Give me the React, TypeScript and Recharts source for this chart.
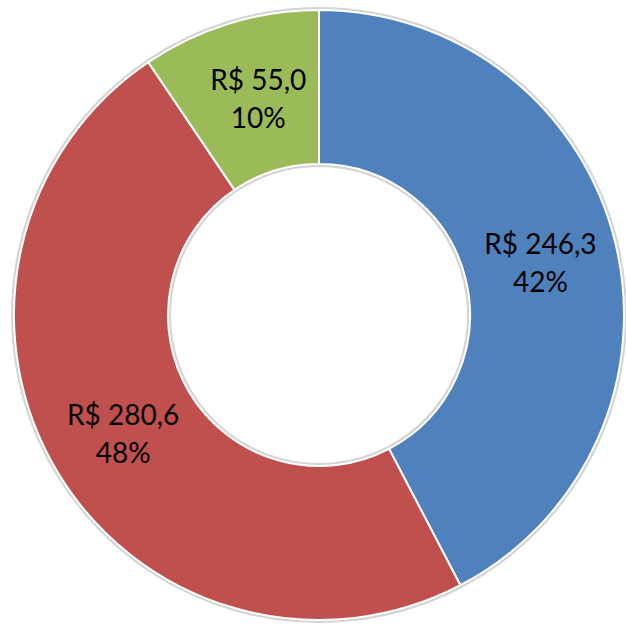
import React from 'react';
import { PieChart, Pie, Cell } from 'recharts';

const categories = ['A', 'B', 'C'];
const values = [246.3, 280.6, 55.0];
const valueLabels = ['R$ 246,3', 'R$ 280,6', 'R$ 55,0'];
const percentLabels = ['42%', '48%', '10%'];
const colors = ['#4F81BD', '#C0504D', '#9BBB59'];

const data = categories.map((name, i) => ({ name, value: values[i] }));

const RADIAN = Math.PI / 180;

const renderLabel = (props: any) => {
  const { cx, cy, midAngle, innerRadius, outerRadius, index } = props;
  const r = (innerRadius + outerRadius) / 2;
  const x = cx + r * Math.cos(-midAngle * RADIAN) + (index === 2 ? 6 : 0);
  const y = cy + r * Math.sin(-midAngle * RADIAN);
  return (
    <text
      x={x}
      y={y}
      textAnchor="middle"
      fill="#000000"
      fontFamily="Lato, 'Open Sans', sans-serif"
      fontSize={28}
    >
      <tspan x={x} y={y - 7}>{valueLabels[index]}</tspan>
      <tspan x={x} y={y + 31}>{percentLabels[index]}</tspan>
    </text>
  );
};

export default function App() {
  return (
    <div style={{ position: 'absolute', left: 0, top: 0, width: 626, height: 625, background: '#fff' }}>
      <PieChart width={626} height={625} margin={{ top: 0, right: 0, bottom: 0, left: 0 }}>
        <Pie
          data={data}
          dataKey="value"
          cx={319}
          cy={315}
          innerRadius={148}
          outerRadius={308}
          startAngle={90}
          endAngle={-270}
          fill="#d4d4d4"
          stroke="none"
          isAnimationActive={false}
        >
          {data.map((d, i) => (
            <Cell key={`bg-${i}`} fill="#d4d4d4" stroke="none" />
          ))}
        </Pie>
        <Pie
          data={data}
          dataKey="value"
          cx={319}
          cy={315}
          innerRadius={151}
          outerRadius={305}
          startAngle={90}
          endAngle={-270}
          stroke="#ffffff"
          strokeWidth={2}
          label={renderLabel}
          labelLine={false}
          isAnimationActive={false}
        >
          {data.map((d, i) => (
            <Cell key={`c-${i}`} fill={colors[i]} />
          ))}
        </Pie>
      </PieChart>
    </div>
  );
}
